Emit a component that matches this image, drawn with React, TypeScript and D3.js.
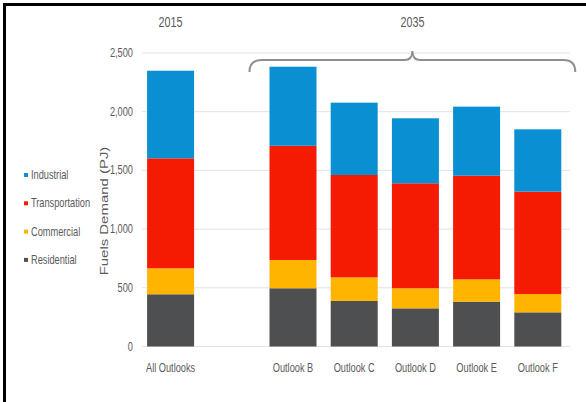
import React from "react";
import * as d3 from "d3";

const categories = ["All Outlooks", "Outlook B", "Outlook C", "Outlook D", "Outlook E", "Outlook F"];
const slots = ["All Outlooks", "__gap__", "Outlook B", "Outlook C", "Outlook D", "Outlook E", "Outlook F"];
const seriesNames = ["Residential", "Commercial", "Transportation", "Industrial"];
const residential = [445, 496, 388, 325, 382, 291];
const commercial = [221, 241, 201, 171, 190, 156];
const transportation = [937, 973, 872, 894, 883, 872];
const industrial = [746, 673, 616, 554, 588, 531];
const yTicks = [0, 500, 1000, 1500, 2000, 2500];
const colors = ["#4e4f51", "#ffb400", "#f41b02", "#0a8fd3"];
const legendOrder = ["Industrial", "Transportation", "Commercial", "Residential"];

const W = 586;
const H = 402;
const FONT = "'Liberation Sans', Arial, sans-serif";
const TXT = "#5a5a5a";

export default function App() {
  const x = d3.scaleBand<string>().domain(slots).range([140, 568.4]).paddingInner(0.232).paddingOuter(0.116);
  const y = d3.scaleLinear().domain([0, 2500]).range([346.5, 53]);
  const bw = x.bandwidth();

  const table = categories.map((c, i) => ({
    cat: c,
    Residential: residential[i],
    Commercial: commercial[i],
    Transportation: transportation[i],
    Industrial: industrial[i],
  }));
  const stacked = d3.stack<any>().keys(seriesNames)(table);

  const fmt = d3.format(",");

  const bx0 = (x("Outlook B") as number) - 20;
  const bx1 = (x("Outlook F") as number) + bw + 14;
  const bmid = (bx0 + bx1) / 2;
  const by = 60;
  const brace = `M${bx0},${by + 12} Q${bx0},${by} ${bx0 + 12},${by} L${bmid - 8},${by} Q${bmid},${by} ${bmid},${by - 9} Q${bmid},${by} ${bmid + 8},${by} L${bx1 - 12},${by} Q${bx1},${by} ${bx1},${by + 12}`;

  const hText = (tx: number, ty: number, s: string, anchor: string, size = 12, key?: any) => (
    <text
      key={key}
      transform={`translate(${tx},${ty}) scale(0.77,1)`}
      textAnchor={anchor}
      fontSize={size}
      fontFamily={FONT}
      fill={TXT}
    >
      {s}
    </text>
  );

  return (
    <svg width={W} height={H} style={{ position: "absolute", left: 0, top: 0, background: "#fff" }}>
      <rect x={0} y={0} width={W} height={H} fill="#fff" />
      {/* border top & left */}
      <line x1={3} y1={4.5} x2={W} y2={4.5} stroke="#000" strokeWidth={3} />
      <line x1={4.5} y1={3} x2={4.5} y2={H} stroke="#000" strokeWidth={3} />

      {/* gridlines */}
      {yTicks.map((t) => (
        <line key={t} x1={142} x2={570} y1={y(t)} y2={y(t)} stroke="#e3e3e3" strokeWidth={1} />
      ))}
      {/* y tick labels */}
      {yTicks.map((t) => hText(133, y(t) + 4, fmt(t), "end", 12, "t" + t))}

      {/* axis title */}
      <text
        transform={`translate(108,${211}) rotate(-90) scale(1.3,1)`}
        textAnchor="middle"
        fontSize={11.5}
        fontFamily={FONT}
        fill={TXT}
      >
        Fuels Demand (PJ)
      </text>

      {/* bars */}
      {stacked.map((s, si) =>
        s.map((d: any, i: number) => (
          <rect
            key={si + "-" + i}
            x={x(categories[i])}
            width={bw}
            y={y(d[1])}
            height={y(d[0]) - y(d[1])}
            fill={colors[si]}
          />
        ))
      )}

      {/* category labels */}
      {categories.map((c) => hText((x(c) as number) + bw / 2, 372, c, "middle", 12, "c" + c))}

      {/* header labels */}
      {hText((x("All Outlooks") as number) + bw / 2, 27, "2015", "middle", 14, "h1")}
      {hText(bmid, 27, "2035", "middle", 14, "h2")}

      {/* brace */}
      <path d={brace} fill="none" stroke="#8f8f8f" strokeWidth={2} />

      {/* legend */}
      {legendOrder.map((name, i) => {
        const ci = seriesNames.indexOf(name);
        const ly = 175 + i * 28.3;
        return (
          <g key={name}>
            <rect x={24} y={ly - 2} width={4} height={4} fill={colors[ci]} />
            {hText(31, ly + 4, name, "start", 12, "l" + name)}
          </g>
        );
      })}
    </svg>
  );
}
